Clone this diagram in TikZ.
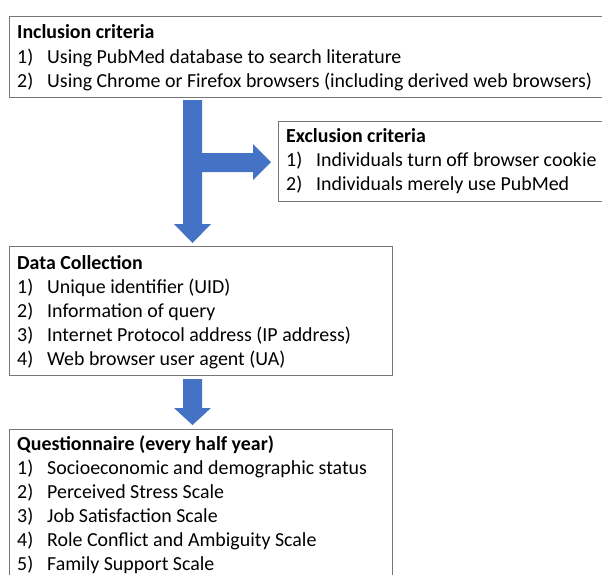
\documentclass[tikz,border=0pt]{standalone}
\usepackage{fontspec}
\setmainfont{Carlito}
\definecolor{arrowblue}{HTML}{4472C4}
\definecolor{boxgray}{HTML}{767676}
\begin{document}
\begin{tikzpicture}[x=1pt,y=-1pt,
  box/.style={draw=boxgray,line width=1pt,anchor=north west,inner sep=0pt,outer sep=0pt},
  title/.style={anchor=base west,inner sep=0pt,font=\fontsize{19.9}{24}\selectfont\bfseries},
  item/.style={anchor=base west,inner sep=0pt,font=\fontsize{19.9}{24}\selectfont},
  blockarrow/.style={fill=arrowblue,draw=none}]
\clip (0,0) rectangle (602,574);
% boxes
\node[box,minimum width=600pt,minimum height=81pt] (inc) at (9,16) {};
\node[box,minimum width=330pt,minimum height=80pt] (exc) at (278,121) {};
\node[box,minimum width=383pt,minimum height=129pt] (dat) at (9,246) {};
\node[box,minimum width=383pt,minimum height=160pt] (que) at (9,429) {};
% arrows
\fill[blockarrow] (183,100) -- (202,100) -- (202,153) -- (253,153) -- (253,144) -- (271,162)
  -- (253,180) -- (253,172) -- (202,172) -- (202,224) -- (211,224) -- (192.5,243)
  -- (174,224) -- (183,224) -- cycle;
\fill[blockarrow] (183,379) -- (202,379) -- (202,408) -- (211,408) -- (192.5,425)
  -- (174,408) -- (183,408) -- cycle;
% Inclusion
\node[title] (incT) at (17,38) {Inclusion criteria};
\node[item] (inc1n) at (17,63) {1)};
\node[item] (inc1) at (47,63) {Using PubMed database to search literature};
\node[item] (inc2n) at (17,87) {2)};
\node[item] (inc2) at (47,87) {Using Chrome or Firefox browsers (including derived web browsers)};
% Exclusion
\node[title] (excT) at (286,142) {Exclusion criteria};
\node[item] (exc1n) at (286,166) {1)};
\node[item] (exc1) at (316,166) {Individuals turn off browser cookie};
\node[item] (exc2n) at (286,190) {2)};
\node[item] (exc2) at (316,190) {Individuals merely use PubMed};
% Data collection
\node[title] (datT) at (17,269) {Data Collection};
\node[item] (dat1n) at (17,293) {1)};
\node[item] (dat1) at (47,293) {Unique identifier (UID)};
\node[item] (dat2n) at (17,317) {2)};
\node[item] (dat2) at (47,317) {Information of query};
\node[item] (dat3n) at (17,341) {3)};
\node[item] (dat3) at (47,341) {Internet Protocol address (IP address)};
\node[item] (dat4n) at (17,365) {4)};
\node[item] (dat4) at (47,365) {Web browser user agent (UA)};
% Questionnaire
\node[title] (queT) at (17,450) {Questionnaire (every half year)};
\node[item] (que1n) at (17,474) {1)};
\node[item] (que1) at (47,474) {Socioeconomic and demographic status};
\node[item] (que2n) at (17,498) {2)};
\node[item] (que2) at (47,498) {Perceived Stress Scale};
\node[item] (que3n) at (17,522) {3)};
\node[item] (que3) at (47,522) {Job Satisfaction Scale};
\node[item] (que4n) at (17,546) {4)};
\node[item] (que4) at (47,546) {Role Conflict and Ambiguity Scale};
\node[item] (que5n) at (17,570) {5)};
\node[item] (que5) at (47,570) {Family Support Scale};
\end{tikzpicture}
\end{document}
